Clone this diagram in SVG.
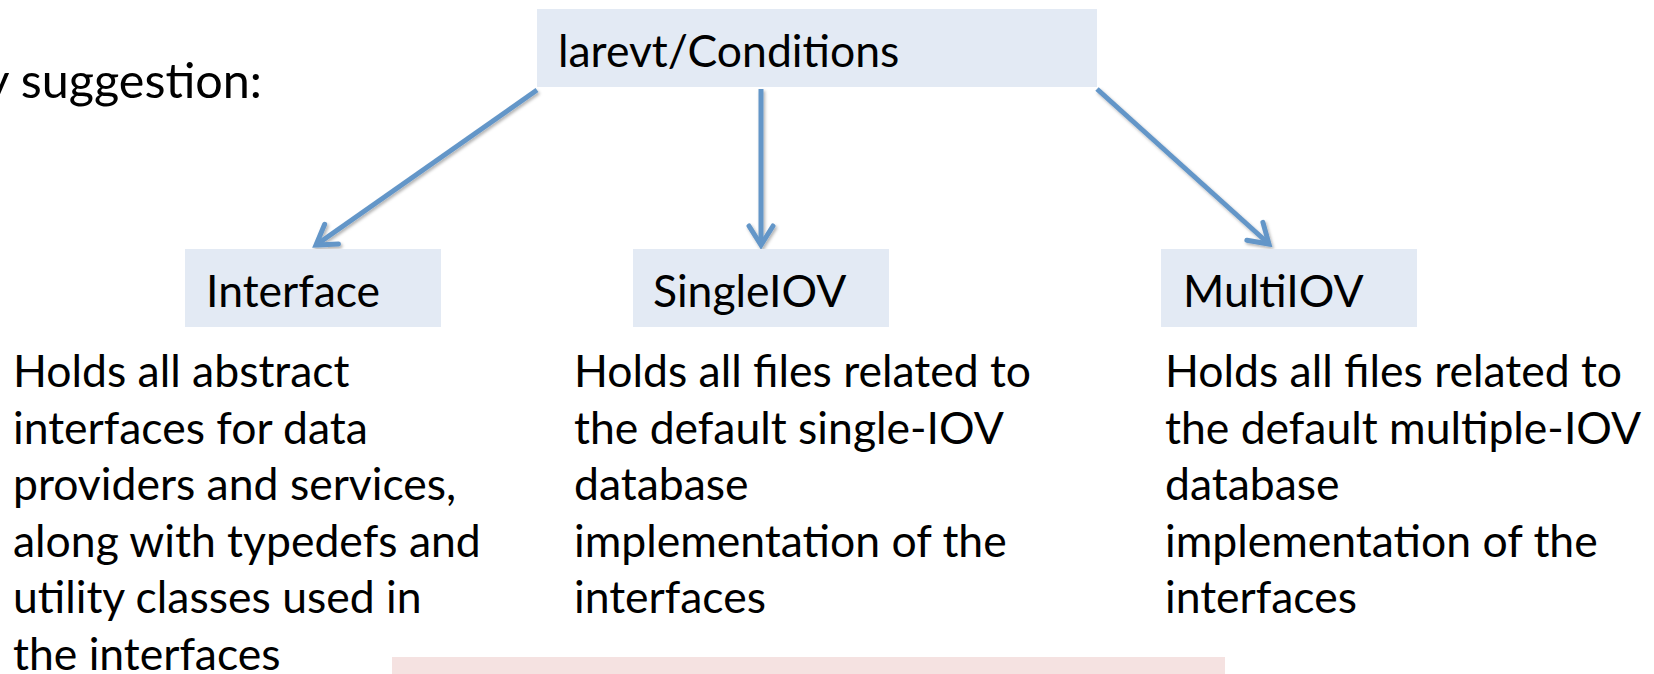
<svg xmlns="http://www.w3.org/2000/svg" width="1654" height="674" viewBox="0 0 1654 674">
  <style>
    .box { fill: #E3EAF4; }
    .label { font-family: Lato, "Open Sans", "Liberation Sans", sans-serif; font-size: 44.5px; fill: #000; }
    .body { font-family: Lato, "Open Sans", "Liberation Sans", sans-serif; font-size: 44.5px; fill: #000; }
    .lead { font-family: Lato, "Open Sans", "Liberation Sans", sans-serif; font-size: 48.5px; fill: #000; }
    .edge { stroke: #6496C8; stroke-width: 5; fill: none; marker-end: url(#open); filter: url(#shade); }
  </style>
  <defs>
    <marker id="open" markerUnits="userSpaceOnUse" viewBox="-24 -16 28 32" refX="0" refY="0" markerWidth="28" markerHeight="32" orient="auto" overflow="visible">
      <path d="M -19 -12 L 0 0 L -19 12" fill="none" stroke="#6496C8" stroke-width="5" stroke-linecap="round" stroke-linejoin="miter"/>
    </marker>
    <filter id="shade" filterUnits="userSpaceOnUse" x="0" y="0" width="1654" height="674">
      <feDropShadow dx="1.5" dy="2" stdDeviation="1.5" flood-color="#000" flood-opacity="0.3"/>
    </filter>
  </defs>

  <rect width="1654" height="674" fill="#FFFFFF"/>

  <!-- heading, clipped at the left edge of the slide -->
  <text class="lead" x="262" y="98" text-anchor="end">y suggestion:</text>

  <!-- connectors from the package to its sub-directories -->
  <g id="connectors">
    <line class="edge" x1="537" y1="90" x2="316" y2="245"/>
    <line class="edge" x1="761" y1="89" x2="761" y2="245"/>
    <line class="edge" x1="1097" y1="89" x2="1269" y2="244"/>
  </g>

  <g id="node-conditions">
    <rect class="box" x="537" y="9" width="560" height="78"/>
    <text class="label" x="558" y="67">larevt/Conditions</text>
  </g>

  <g id="node-interface">
    <rect class="box" x="185" y="249" width="256" height="78"/>
    <text class="label" x="206" y="307">Interface</text>
  </g>

  <g id="node-singleiov">
    <rect class="box" x="633" y="249" width="256" height="78"/>
    <text class="label" x="653" y="307">SingleIOV</text>
  </g>

  <g id="node-multiiov">
    <rect class="box" x="1161" y="249" width="256" height="78"/>
    <text class="label" x="1183" y="307">MultiIOV</text>
  </g>

  <!-- descriptions under each sub-directory -->
  <g id="desc-interface">
    <text class="body" x="13" y="387">Holds all abstract</text>
    <text class="body" x="13" y="443.5">interfaces for data</text>
    <text class="body" x="13" y="500">providers and services,</text>
    <text class="body" x="13" y="556.5">along with typedefs and</text>
    <text class="body" x="13" y="613">utility classes used in</text>
    <text class="body" x="13" y="669.5">the interfaces</text>
  </g>

  <g id="desc-singleiov">
    <text class="body" x="574" y="387">Holds all files related to</text>
    <text class="body" x="574" y="443.5">the default single-IOV</text>
    <text class="body" x="574" y="500">database</text>
    <text class="body" x="574" y="556.5">implementation of the</text>
    <text class="body" x="574" y="613">interfaces</text>
  </g>

  <g id="desc-multiiov">
    <text class="body" x="1165" y="387">Holds all files related to</text>
    <text class="body" x="1165" y="443.5">the default multiple-IOV</text>
    <text class="body" x="1165" y="500">database</text>
    <text class="body" x="1165" y="556.5">implementation of the</text>
    <text class="body" x="1165" y="613">interfaces</text>
  </g>

  <!-- highlighted band at the bottom edge -->
  <rect x="392" y="657" width="833" height="17" fill="#F5E2E1"/>
</svg>
